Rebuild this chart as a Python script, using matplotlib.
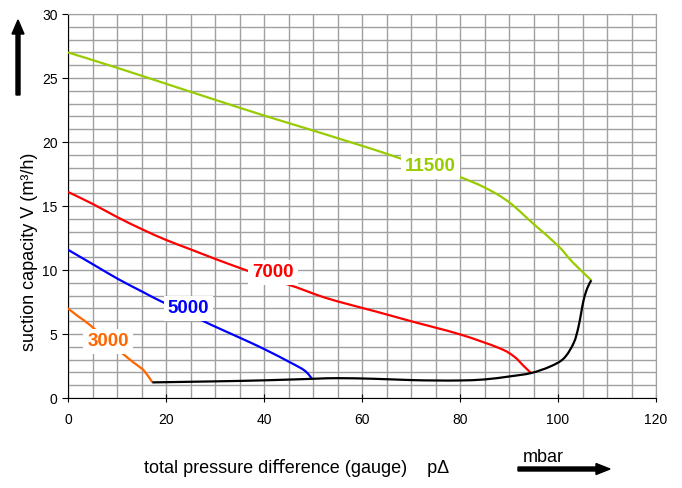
import matplotlib
matplotlib.use("Agg")
import matplotlib.pyplot as plt
from matplotlib.path import Path
from matplotlib.patches import PathPatch, FancyArrow
import numpy as np

plt.rcParams['font.family'] = ['Liberation Sans', 'DejaVu Sans']

# Data (x: mbar, y: m3/h)
x_3000 = [0, 2, 4.5, 8, 12.3, 14, 15.6, 17.2]
y_3000 = [7.0, 6.4, 5.7, 4.5, 3.1, 2.6, 2.1, 1.22]

x_5000 = [0, 5.2, 10.2, 15.3, 19, 24.4, 29.2, 35, 40, 45.3, 48.3, 49.8]
y_5000 = [11.58, 10.42, 9.3, 8.28, 7.55, 6.6, 5.72, 4.72, 3.83, 2.79, 2.14, 1.5]

x_7000 = [0, 5.2, 10.2, 15.3, 20, 25.1, 30.5, 35.5, 41, 46.6, 50.6, 55, 63, 70, 80, 88, 91, 93, 94.5]
y_7000 = [16.1, 15.13, 14.1, 13.15, 12.35, 11.6, 10.8, 10.1, 9.35, 8.65, 8.08, 7.55, 6.74, 6.0, 4.97, 3.9, 3.25, 2.5, 1.95]

x_11500 = [0, 10, 20, 30, 40, 50, 55, 62.5, 66, 72, 79, 85, 90, 95, 100, 103, 106.8]
y_11500 = [27.0, 25.8, 24.55, 23.3, 22.07, 20.9, 20.3, 19.4, 18.95, 18.2, 17.4, 16.45, 15.3, 13.6, 11.9, 10.6, 9.2]

x_limit = [17.2, 30, 40, 50, 55, 62.5, 70, 75, 80, 85, 90, 94.5, 98.4, 101.2, 103.2, 104.2, 105.2, 106, 106.8]
y_limit = [1.22, 1.3, 1.38, 1.5, 1.55, 1.5, 1.4, 1.37, 1.37, 1.45, 1.68, 1.95, 2.46, 3.1, 4.3, 5.6, 7.6, 8.6, 9.2]

labels = ["3000", "5000", "7000", "11500"]
label_pos = [(8.2, 4.4), (24.6, 7.0), (41.8, 9.8), (74, 18.1)]
colors = ["#ff6600", "#0000ff", "#ff0000", "#99cc00"]


def smooth_path(xs, ys):
    """Catmull-Rom curve through the points, drawn as cubic Bezier segments."""
    p = np.column_stack([xs, ys]).astype(float)
    ext = np.vstack([p[0], p, p[-1]])
    verts = [tuple(p[0])]
    codes = [Path.MOVETO]
    for i in range(1, len(ext) - 2):
        p0, p1, p2, p3 = ext[i - 1], ext[i], ext[i + 1], ext[i + 2]
        c1 = p1 + (p2 - p0) / 6.0
        c2 = p2 - (p3 - p1) / 6.0
        verts += [tuple(c1), tuple(c2), tuple(p2)]
        codes += [Path.CURVE4] * 3
    return Path(verts, codes)


fig = plt.figure(figsize=(6.82, 4.88), dpi=100)
ax = fig.add_axes([68/682, 1-398/488, (656-68)/682, (398-14)/488])

ax.set_xlim(0, 120)
ax.set_ylim(0, 30)
ax.set_xticks(np.arange(0, 121, 20))
ax.set_yticks(np.arange(0, 31, 5))
ax.set_xticks(np.arange(0, 121, 5), minor=True)
ax.set_yticks(np.arange(0, 31, 1), minor=True)
ax.grid(True, which='both', color='#a0a0a0', linewidth=1.0)
ax.set_axisbelow(True)
ax.tick_params(axis='x', which='major', direction='inout', length=6, labelsize=10, pad=8)
ax.tick_params(axis='y', which='major', direction='out', length=4, labelsize=10)
ax.tick_params(which='minor', length=0)
for s in ['top', 'right']:
    ax.spines[s].set_color('#a0a0a0')
for s in ['left', 'bottom']:
    ax.spines[s].set_color('black')

series = [(x_3000, y_3000), (x_5000, y_5000), (x_7000, y_7000), (x_11500, y_11500)]
for (xs, ys), c in zip(series, colors):
    ax.add_patch(PathPatch(smooth_path(xs, ys), fill=False, edgecolor=c, linewidth=1.6,
                           zorder=3, capstyle='butt'))
ax.add_patch(PathPatch(smooth_path(x_limit, y_limit), fill=False, edgecolor='black',
                       linewidth=1.6, zorder=3, capstyle='butt'))

for lab, (lx, ly), c in zip(labels, label_pos, colors):
    ax.text(lx, ly, lab, color=c, fontsize=13.5, fontweight='bold', ha='center', va='center',
            zorder=4, bbox=dict(facecolor='white', edgecolor='none', pad=3))

fig.text(30/682, 1-252/488, "suction capacity V (m³/h)", rotation=90, fontsize=13,
         ha='center', va='center')
fig.text(297/682, 1-468/488, "total pressure di\ufb00erence (gauge)    p\u0394", fontsize=13,
         ha='center', va='center')
fig.text(543/682, 1-457/488, "mbar", fontsize=13, ha='center', va='center')

fig.add_artist(FancyArrow(18/682, 1-95/488, 0, 75/488, width=4/682,
               head_width=12/682, head_length=14/488, length_includes_head=True,
               color='black', transform=fig.transFigure))
fig.add_artist(FancyArrow(518/682, 1-469/488, 92/682, 0, width=4/488,
               head_width=11/488, head_length=14/682, length_includes_head=True,
               color='black', transform=fig.transFigure))

fig.savefig("out.png", dpi=100)
